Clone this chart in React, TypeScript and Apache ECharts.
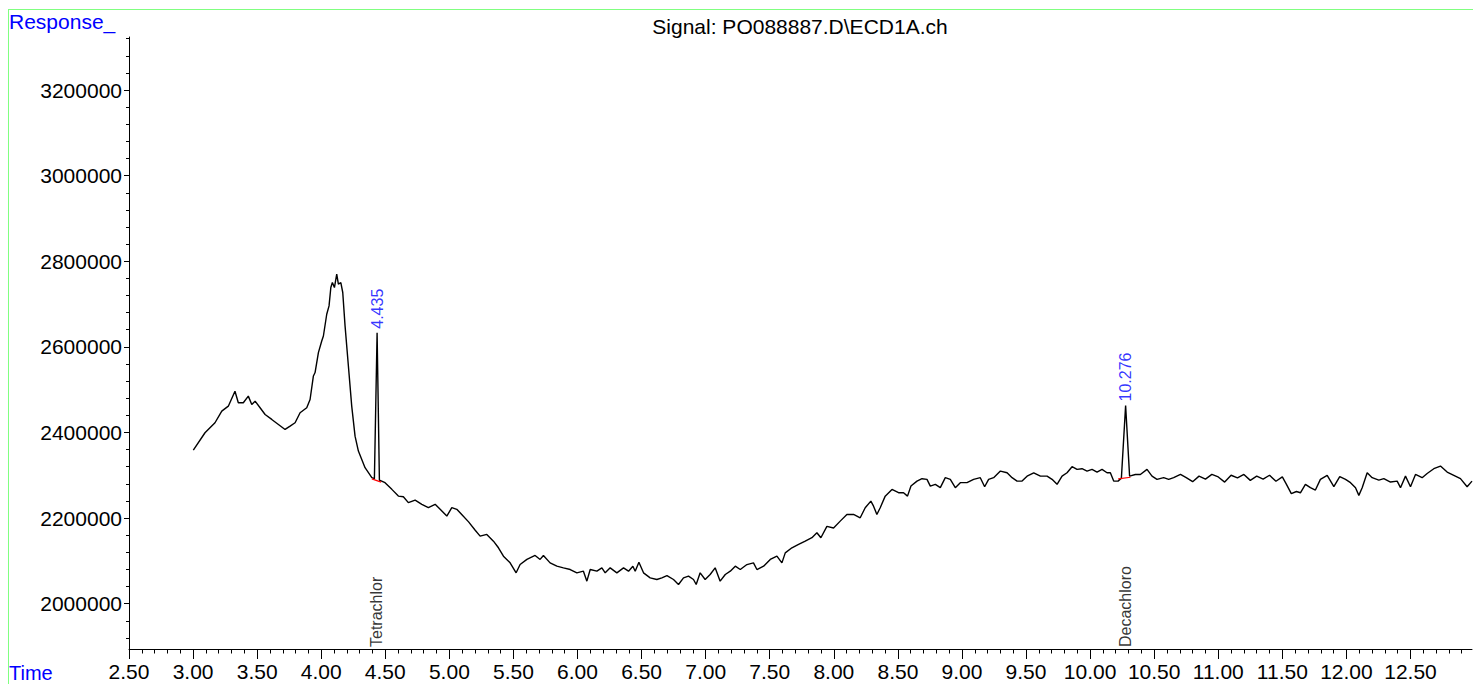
import React, { useEffect, useRef } from "react";
import * as echarts from "echarts";

// Retention time (min) and detector response
const times = [
  3.002, 3.093, 3.171, 3.224, 3.275, 3.327, 3.353, 3.392, 3.431, 3.458, 3.484, 3.523, 3.562, 3.614, 3.666, 3.718, 3.757, 3.796, 3.835, 3.887,
  3.913, 3.939, 3.952, 3.978, 4.004, 4.017, 4.043, 4.061, 4.075, 4.087, 4.103, 4.121, 4.134, 4.153, 4.168, 4.186, 4.212, 4.238, 4.264, 4.29,
  4.342, 4.395, 4.415, 4.436, 4.454, 4.498, 4.551, 4.602, 4.641, 4.68, 4.733, 4.785, 4.836, 4.889, 4.928, 4.98, 5.019, 5.058, 5.1, 5.15,
  5.2, 5.24, 5.292, 5.344, 5.383, 5.422, 5.474, 5.521, 5.552, 5.605, 5.669, 5.708, 5.734, 5.786, 5.839, 5.89, 5.943, 5.995, 6.046, 6.073,
  6.099, 6.151, 6.19, 6.216, 6.255, 6.307, 6.359, 6.398, 6.432, 6.45, 6.479, 6.515, 6.567, 6.619, 6.658, 6.698, 6.749, 6.788, 6.827, 6.866,
  6.905, 6.926, 6.957, 6.996, 7.035, 7.074, 7.113, 7.153, 7.192, 7.231, 7.27, 7.322, 7.373, 7.4, 7.452, 7.504, 7.556, 7.595, 7.621, 7.673,
  7.725, 7.777, 7.829, 7.868, 7.899, 7.946, 7.998, 8.05, 8.102, 8.154, 8.206, 8.245, 8.289, 8.31, 8.336, 8.362, 8.401, 8.454, 8.505, 8.544,
  8.575, 8.602, 8.649, 8.688, 8.727, 8.753, 8.792, 8.831, 8.87, 8.909, 8.948, 8.987, 9.039, 9.091, 9.143, 9.177, 9.208, 9.247, 9.3, 9.352,
  9.391, 9.43, 9.469, 9.508, 9.56, 9.612, 9.664, 9.703, 9.742, 9.781, 9.82, 9.859, 9.898, 9.937, 9.976, 10.015, 10.054, 10.093, 10.132, 10.158,
  10.184, 10.218, 10.244, 10.277, 10.308, 10.353, 10.392, 10.444, 10.483, 10.522, 10.574, 10.613, 10.652, 10.705, 10.75, 10.8, 10.85, 10.9, 10.95, 11.0,
  11.05, 11.1, 11.15, 11.2, 11.25, 11.3, 11.35, 11.4, 11.45, 11.5, 11.53, 11.57, 11.61, 11.641, 11.68, 11.719, 11.758, 11.797, 11.85, 11.902,
  11.948, 11.993, 12.032, 12.071, 12.097, 12.123, 12.162, 12.201, 12.253, 12.292, 12.344, 12.396, 12.422, 12.461, 12.5, 12.539, 12.591, 12.63, 12.682, 12.734,
  12.786, 12.838, 12.89, 12.942, 12.98,
];

const response = [
  2358600, 2399300, 2422700, 2449800, 2461400, 2496400, 2469400, 2469400, 2484900, 2465400, 2473100, 2457700, 2442000, 2430400, 2418700, 2407000, 2414700, 2422700, 2446000, 2457700,
  2477000, 2532000, 2540000, 2586500, 2613800, 2625400, 2676200, 2695600, 2738600, 2750300, 2738600, 2769700, 2746500, 2750300, 2727000, 2649100, 2555300, 2461400, 2391400, 2356400,
  2317600, 2294300, 2292000, 2633000, 2288700, 2282600, 2267000, 2251300, 2249900, 2235900, 2242000, 2232000, 2224300, 2232000, 2220300, 2204700, 2224300, 2220300, 2207000, 2191000,
  2172000, 2157800, 2161700, 2146000, 2130500, 2110900, 2095300, 2072000, 2091300, 2103300, 2112600, 2103300, 2112600, 2095300, 2087500, 2083600, 2079700, 2072000, 2075800, 2052500,
  2079700, 2075800, 2083600, 2072000, 2083600, 2072000, 2083600, 2075800, 2087500, 2075800, 2096500, 2072000, 2060300, 2056400, 2060300, 2065600, 2056400, 2044700, 2060300, 2064200,
  2056400, 2044700, 2072000, 2056400, 2068100, 2083600, 2052500, 2068100, 2075800, 2087500, 2079700, 2091300, 2095300, 2079700, 2087500, 2103300, 2110900, 2095300, 2118600, 2130500,
  2138400, 2146000, 2154000, 2165700, 2154000, 2180600, 2176700, 2192800, 2208400, 2208400, 2200600, 2224000, 2239500, 2227800, 2208400, 2224000, 2251200, 2266800, 2259100, 2259100,
  2251200, 2274700, 2286300, 2291900, 2290400, 2274700, 2278700, 2271000, 2294300, 2290400, 2271000, 2282700, 2282700, 2290400, 2294300, 2273200, 2290400, 2294300, 2309700, 2305800,
  2294300, 2286300, 2286300, 2297900, 2305800, 2297900, 2297900, 2290400, 2278700, 2297900, 2305800, 2319900, 2313600, 2315300, 2309700, 2313600, 2307400, 2313600, 2305800, 2305800,
  2286300, 2286300, 2293300, 2463100, 2297900, 2301800, 2301800, 2313600, 2297900, 2290400, 2294300, 2290400, 2294300, 2301800, 2294300, 2285000, 2298000, 2291000, 2302000, 2296000,
  2284000, 2300000, 2294000, 2302000, 2288000, 2298000, 2291000, 2300000, 2286000, 2296000, 2280000, 2257000, 2262000, 2259000, 2278700, 2271000, 2265400, 2290400, 2299800, 2273200,
  2296600, 2290400, 2282700, 2271000, 2253000, 2271000, 2305800, 2294300, 2288600, 2292000, 2284100, 2286300, 2271000, 2297900, 2273200, 2301800, 2294300, 2304200, 2315300, 2321400,
  2307400, 2299800, 2292000, 2273200, 2286300,
];

// Integrated peaks
const peakTimes = [4.436, 10.277];
const peakApex = [2633000, 2463100];
const peakLabels = ["4.435", "10.276"];
const compoundTimes = [4.435, 10.276];
const compoundNames = ["Tetrachlor", "Decachloro"];

// Peak baselines (start / end)
const baselineStartTimes = [4.395, 10.219];
const baselineStartValues = [2291600, 2291300];
const baselineEndTimes = [4.468, 10.315];
const baselineEndValues = [2283800, 2295300];

// Axis tick labels
const xTickLabels = ["2.50", "3.00", "3.50", "4.00", "4.50", "5.00", "5.50", "6.00", "6.50", "7.00", "7.50", "8.00", "8.50", "9.00", "9.50", "10.00", "10.50", "11.00", "11.50", "12.00", "12.50"];
const yTickLabels = ["2000000", "2200000", "2400000", "2600000", "2800000", "3000000", "3200000"];

const X_MIN = 2.5;
const X_MAX = 12.98;
const Y_MIN = 1894000;
const Y_MAX = 3324000;

const FONT = "'Liberation Sans', Arial, Helvetica, sans-serif";

export default function App() {
  const ref = useRef<HTMLDivElement>(null);

  useEffect(() => {
    if (!ref.current) return;
    const chart = echarts.init(ref.current, null, { renderer: "svg" });

    const xMajor = xTickLabels.map((s) => parseFloat(s));
    const yMajor = yTickLabels.map((s) => parseFloat(s));
    const xMinor: number[] = [];
    for (let i = 25; i <= 129; i++) {
      if (i % 5 !== 0) xMinor.push(i / 10);
    }
    const yMinor: number[] = [];
    for (let v = 1920000; v <= 3320000; v += 40000) {
      if (v % 200000 !== 0) yMinor.push(v);
    }

    const trace = times.map((t, i) => [t, response[i]]);

    const baselineSeries = baselineStartTimes.map((t, i) => ({
      type: "line",
      data: [
        [t, baselineStartValues[i]],
        [baselineEndTimes[i], baselineEndValues[i]],
      ],
      showSymbol: false,
      symbol: "none",
      silent: true,
      lineStyle: { color: "#ff0000", width: 1.2 },
      z: 3,
    }));

    chart.setOption({
      animation: false,
      backgroundColor: "#ffffff",
      grid: { left: 129, right: 1, top: 37, bottom: 35, containLabel: false },
      xAxis: [
        {
          type: "value",
          min: X_MIN,
          max: X_MAX,
          position: "bottom",
          axisLine: { show: true, onZero: false, lineStyle: { color: "#000", width: 1 } },
          axisTick: { show: true, customValues: xMajor, length: 10, lineStyle: { color: "#000", width: 1 } },
          axisLabel: {
            show: true,
            customValues: xMajor,
            formatter: (v: number) => v.toFixed(2),
            fontSize: 21,
            fontFamily: FONT,
            color: "#000",
            margin: 12,
          },
          splitLine: { show: false },
        },
        {
          type: "value",
          min: X_MIN,
          max: X_MAX,
          position: "bottom",
          axisLine: { show: false, onZero: false },
          axisTick: { show: true, customValues: xMinor, length: 4.5, lineStyle: { color: "#000", width: 1 } },
          axisLabel: { show: false },
          splitLine: { show: false },
        },
      ],
      yAxis: [
        {
          type: "value",
          min: Y_MIN,
          max: Y_MAX,
          position: "left",
          axisLine: { show: true, onZero: false, lineStyle: { color: "#000", width: 1 } },
          axisTick: { show: true, customValues: yMajor, length: 5, lineStyle: { color: "#000", width: 1 } },
          axisLabel: {
            show: true,
            customValues: yMajor,
            formatter: (v: number) => String(Math.round(v)),
            fontSize: 21,
            fontFamily: FONT,
            color: "#000",
            margin: 7,
          },
          splitLine: { show: false },
        },
        {
          type: "value",
          min: Y_MIN,
          max: Y_MAX,
          position: "left",
          axisLine: { show: false, onZero: false },
          axisTick: { show: true, customValues: yMinor, length: 3, lineStyle: { color: "#000", width: 1 } },
          axisLabel: { show: false },
          splitLine: { show: false },
        },
      ],
      graphic: [
        { type: "line", shape: { x1: 8, y1: 9.5, x2: 1473, y2: 9.5 }, style: { stroke: "#80ff80", lineWidth: 1 }, silent: true },
        { type: "line", shape: { x1: 8.5, y1: 9, x2: 8.5, y2: 684 }, style: { stroke: "#80ff80", lineWidth: 1 }, silent: true },
        {
          type: "text",
          x: 9,
          y: 21,
          style: { text: "Response_", fill: "#0000ff", fontSize: 21, fontFamily: FONT, align: "left", verticalAlign: "middle" },
          silent: true,
        },
        {
          type: "text",
          x: 9,
          y: 673,
          style: { text: "Time", fill: "#0000ff", fontSize: 20, fontFamily: FONT, align: "left", verticalAlign: "middle" },
          silent: true,
        },
        {
          type: "text",
          x: 800,
          y: 26,
          style: { text: "Signal: PO088887.D\\ECD1A.ch", fill: "#000", fontSize: 21, fontFamily: FONT, align: "center", verticalAlign: "middle" },
          silent: true,
        },
      ],
      series: [
        {
          type: "line",
          data: trace,
          showSymbol: false,
          symbol: "none",
          silent: true,
          lineStyle: { color: "#000", width: 1.4 },
          z: 2,
        },
        ...baselineSeries,
        {
          type: "scatter",
          data: peakTimes.map((t, i) => [t, peakApex[i]]),
          symbolSize: 0,
          silent: true,
          label: {
            show: true,
            position: "top",
            distance: 4,
            rotate: 90,
            align: "left",
            verticalAlign: "middle",
            color: "#0000ff",
            fontSize: 16,
            fontFamily: FONT,
            formatter: (p: any) => peakLabels[p.dataIndex],
          },
          z: 4,
        },
        {
          type: "scatter",
          data: compoundTimes.map((t) => [t, Y_MIN]),
          symbolSize: 0,
          silent: true,
          clip: false,
          label: {
            show: true,
            position: "top",
            distance: 2,
            rotate: 90,
            align: "left",
            verticalAlign: "middle",
            color: "#000",
            fontSize: 16,
            fontFamily: FONT,
            formatter: (p: any) => compoundNames[p.dataIndex],
          },
          z: 4,
        },
      ],
    });

    return () => {
      chart.dispose();
    };
  }, []);

  return (
    <div
      ref={ref}
      style={{ position: "fixed", left: 0, top: 0, width: 1473, height: 684, background: "#fff" }}
    />
  );
}
